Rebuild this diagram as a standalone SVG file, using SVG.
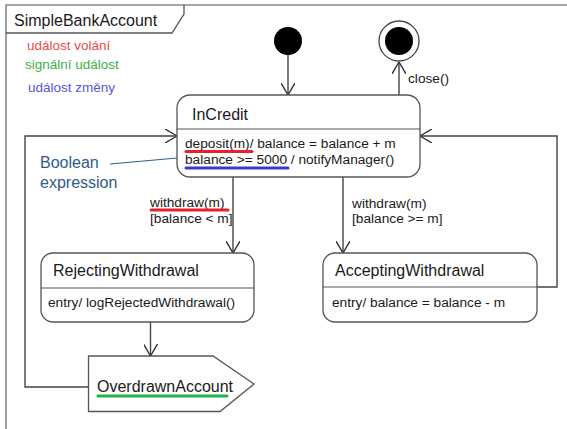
<svg xmlns="http://www.w3.org/2000/svg" width="567" height="429" viewBox="0 0 567 429">
<style>
text{font-family:"Liberation Sans",Arial,sans-serif;fill:#1a1a1a}
.box{fill:#fff;stroke:#555;stroke-width:1.3}
.sep{stroke:#555;stroke-width:1.2}
.ln{fill:none;stroke:#444;stroke-width:1.4}
.t16{font-size:16px}
.t14{font-size:13.7px}
.leg{font-size:13.5px}
.ul{stroke-width:3;stroke-linecap:round}
</style>
<defs>
<marker id="arr" viewBox="0 0 12 14" refX="12" refY="7" markerWidth="12" markerHeight="14" markerUnits="userSpaceOnUse" orient="auto">
<path d="M0,0 L12,7 L0,14" fill="none" stroke="#333" stroke-width="1.4"/>
</marker>
</defs>
<rect width="567" height="429" fill="#fff"/>
<g id="frame">
<path d="M6,429 V5 H567" fill="none" stroke="#888" stroke-width="1.6"/>
<path d="M6,33 H172 L184,14 V5" fill="none" stroke="#555" stroke-width="1.3"/>
<text class="t16" x="14" y="26">SimpleBankAccount</text>
</g>
<g id="legend">
<text class="leg" x="27" y="50" style="fill:#f04a4a">událost volání</text>
<text class="leg" x="25" y="69" style="fill:#3cb04a">signální událost</text>
<text class="leg" x="28" y="92" style="fill:#5555e0">událost změny</text>
</g>
<g id="connectors">
<line class="ln" x1="288" y1="55" x2="288" y2="95" marker-end="url(#arr)"/>
<line class="ln" x1="399" y1="95" x2="399" y2="62" marker-end="url(#arr)"/>
<line class="ln" x1="233" y1="177" x2="233" y2="253" marker-end="url(#arr)"/>
<line class="ln" x1="343" y1="177" x2="343" y2="253" marker-end="url(#arr)"/>
<line class="ln" x1="150.5" y1="322" x2="150.5" y2="356" marker-end="url(#arr)"/>
<polyline class="ln" points="88,387 25,387 25,136 177,136" marker-end="url(#arr)"/>
<polyline class="ln" points="537,287 557,287 557,136 420,136" marker-end="url(#arr)"/>
<line x1="110" y1="164" x2="177" y2="158" stroke="#2e5c8a" stroke-width="1"/>
<text class="t14" x="408" y="83">close()</text>
<text class="t14" x="150" y="207">withdraw(m)</text>
<text class="t14" x="150" y="223">[balance &lt; m]</text>
<line class="ul" x1="151" y1="210" x2="228" y2="210" stroke="#e8202a"/>
<text class="t14" x="352" y="208">withdraw(m)</text>
<text class="t14" x="352" y="223">[balance &gt;= m]</text>
<text class="t16" x="40" y="168" style="fill:#2e5c8a">Boolean</text>
<text class="t16" x="40" y="188" style="fill:#2e5c8a">expression</text>
</g>
<g id="initial">
<circle cx="288" cy="41" r="14" fill="#000"/>
</g>
<g id="final">
<circle cx="399" cy="41" r="20" fill="#fff" stroke="#444" stroke-width="1.3"/>
<circle cx="399" cy="41" r="14" fill="#000"/>
</g>
<g id="InCredit">
<rect class="box" x="177" y="95" width="243" height="82" rx="13"/>
<line class="sep" x1="177" y1="129" x2="420" y2="129"/>
<text class="t16" x="192" y="120">InCredit</text>
<text class="t14" x="185" y="148">deposit(m)/ balance = balance + m</text>
<text class="t14" x="185" y="164">balance &gt;= 5000 / notifyManager()</text>
<line class="ul" x1="186" y1="151.5" x2="252" y2="151.5" stroke="#e8202a"/>
<line class="ul" x1="186" y1="168" x2="288" y2="168" stroke="#3a3ac8"/>
</g>
<g id="RejectingWithdrawal">
<rect class="box" x="41" y="253" width="213" height="69" rx="12"/>
<line class="sep" x1="41" y1="288" x2="254" y2="288"/>
<text class="t16" x="53" y="276">RejectingWithdrawal</text>
<text class="t14" x="48" y="307">entry/ logRejectedWithdrawal()</text>
</g>
<g id="AcceptingWithdrawal">
<rect class="box" x="323" y="253" width="214" height="69" rx="12"/>
<line class="sep" x1="323" y1="287" x2="537" y2="287"/>
<text class="t16" x="335" y="276">AcceptingWithdrawal</text>
<text class="t14" x="332" y="307">entry/ balance = balance - m</text>
</g>
<g id="OverdrawnAccount">
<polygon class="box" points="88.5,356 213,356 254,384 220,411.5 88.5,411.5"/>
<text class="t16" x="97" y="392">OverdrawnAccount</text>
<line class="ul" x1="98" y1="396" x2="227" y2="396" stroke="#22b04a"/>
</g>
</svg>
